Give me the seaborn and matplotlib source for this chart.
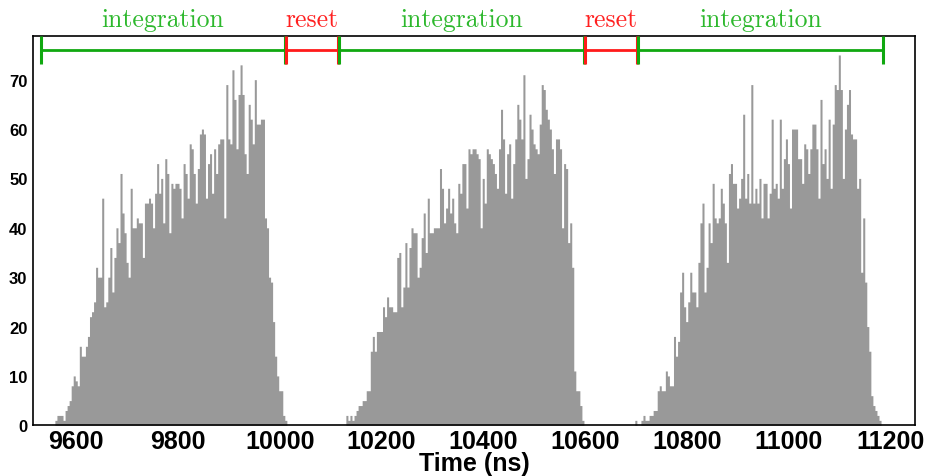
import numpy as np
import pandas as pd
import matplotlib
matplotlib.use("Agg")
import matplotlib.pyplot as plt
import matplotlib.transforms as mtransforms
from matplotlib.ticker import MultipleLocator
import seaborn as sns

# ---------------- data ----------------
bin_width = 4  # ns
cluster_starts = [9558, 10130, 10698]  # ns, left edge of first bin of each burst

counts_1 = [1, 2, 2, 2, 1, 3, 4, 5, 8, 10, 9, 8, 16, 14, 14, 16, 18, 22, 23, 25,
            32, 30, 30, 46, 24, 25, 30, 36, 27, 34, 40, 37, 51, 43, 39, 33, 30, 48, 40, 40,
            42, 41, 41, 34, 45, 45, 46, 45, 40, 47, 53, 47, 50, 41, 54, 51,
            39, 49, 48, 49, 49, 48, 42, 53, 51, 46, 57, 56, 51, 45, 52, 59, 60, 59, 46, 53,
            55, 47, 56, 51, 57, 58, 58, 42, 69, 58, 57, 72, 66, 56, 67, 73, 67, 55, 51, 65,
            62, 57, 70, 61, 61, 62, 62, 42, 40, 30, 29, 21, 14, 10, 7, 7, 2, 1]

counts_2 = [2, 1, 2, 1, 2, 3, 4, 4, 5, 5, 7, 7, 15, 18, 15, 19, 19, 19, 24, 22,
            26, 24, 24, 23, 23, 34, 35, 24, 28, 37, 28, 36, 40, 39, 39, 30, 32, 38, 43, 35,
            46, 39, 39, 40, 40, 40, 52, 48, 41, 44, 48, 43, 46, 41, 39, 49, 47, 53,
            53, 44, 56, 55, 56, 56, 55, 54, 40, 50, 45, 56, 55, 54, 53, 51, 48, 56, 64, 58,
            47, 55, 57, 46, 53, 58, 65, 62, 58, 71, 50, 54, 63, 60, 57, 56, 55, 61, 69, 68,
            64, 62, 60, 56, 51, 58, 58, 56, 40, 53, 52, 37, 41, 32, 11, 7, 7, 4, 1]

counts_3 = [1, 0, 0, 1, 2, 1, 1, 2, 2, 3, 3, 7, 8, 7, 7, 11, 10, 8, 8, 18,
            14, 17, 27, 31, 24, 21, 25, 31, 27, 27, 24, 33, 41, 45, 27, 32, 41, 37, 49, 42,
            41, 42, 48, 45, 41, 33, 51, 53, 49, 49, 44, 46, 50, 63, 46, 51, 45, 69, 45, 48,
            45, 50,
            42, 49, 49, 42, 47, 62, 48, 49, 46, 62, 48, 54, 58, 53, 44, 60, 60, 60, 54, 54,
            49, 57, 56, 51, 56, 61, 61, 56, 46, 66, 53, 56, 50, 62, 48, 61, 69, 68, 75, 68,
            50, 60, 65, 68, 59, 58, 58, 48, 50, 31, 42, 29, 20, 15, 6, 4, 3, 2, 1]

phase_edges = [9530, 10011, 10117, 10598, 10704, 11185]  # ns
phase_labels = ["integration", "reset", "integration", "reset", "integration"]

x_ticks_major = 200
x_ticks_minor = 50
x_range = (9515, 11249)
y_range = (0, 78.8)
bin_range = (9514, 11250)
marker_level = 76.0

# ---------------- build table ----------------
rows = []
for start, counts in zip(cluster_starts, [counts_1, counts_2, counts_3]):
    for i, c in enumerate(counts):
        rows.append({"time": start + (i + 0.5) * bin_width, "count": c})
df = pd.DataFrame(rows)

# ---------------- style ----------------
sns.set_style("white")
plt.rcParams["font.family"] = ["Liberation Sans", "DejaVu Sans"]
plt.rcParams["font.weight"] = "bold"
for key in ("text.color", "axes.labelcolor", "xtick.color", "ytick.color"):
    plt.rcParams[key] = "black"

fig = plt.figure(figsize=(9.3, 4.77), dpi=100)
ax = fig.add_axes([0.0355, 0.1063, 0.9485, 0.8157])

sns.histplot(data=df, x="time", weights="count", binwidth=bin_width,
             binrange=bin_range, element="step", fill=True,
             color="#999999", alpha=1, linewidth=0, ax=ax)

ax.set_xlim(*x_range)
ax.set_ylim(*y_range)

# phase markers
green_line = "#10a810"
red_line = "#ff1a1a"
green_text = "#2db82d"
red_text = "#ff2020"
trans = mtransforms.blended_transform_factory(ax.transData, fig.transFigure)
for k, lab in enumerate(phase_labels):
    a, b = phase_edges[k], phase_edges[k + 1]
    is_int = lab == "integration"
    lc = green_line if is_int else red_line
    tc = green_text if is_int else red_text
    off = 0 if is_int else 1.8
    ax.plot([a + off, b - off], [marker_level, marker_level], color=lc, lw=2.0,
            solid_capstyle="butt", zorder=5)
    for xx in (a + off, b - off):
        ax.plot([xx, xx], [73.2, y_range[1]], color=lc, lw=2.2,
                solid_capstyle="butt", zorder=6)
    ax.text((a + b) / 2, 0.958, lab, transform=trans, ha="center", va="center",
            color=tc, fontsize=18.5, family="cmr10", fontweight="normal")

# axes / ticks
ax.xaxis.set_major_locator(MultipleLocator(x_ticks_major))
ax.xaxis.set_minor_locator(MultipleLocator(x_ticks_minor))
ax.yaxis.set_major_locator(MultipleLocator(10))
ax.yaxis.set_minor_locator(MultipleLocator(2))
ax.tick_params(axis="x", which="major", direction="in", length=12, width=1.2,
               labelsize=18, pad=3, top=False, colors="black")
ax.tick_params(axis="x", which="minor", direction="in", length=6, width=1.2, top=False,
               colors="black")
ax.tick_params(axis="y", which="major", direction="in", length=26, width=1.2,
               labelsize=12, pad=4, right=False, colors="black")
ax.tick_params(axis="y", which="minor", direction="in", length=13, width=1.2, right=False,
               colors="black")
for s in ax.spines.values():
    s.set_color("black")
    s.set_linewidth(1.2)

ax.set_xlabel("Time (ns)", fontsize=18, fontweight="bold", labelpad=-1.5, color="black")
ax.set_ylabel("")

fig.savefig("out.png", dpi=100)
